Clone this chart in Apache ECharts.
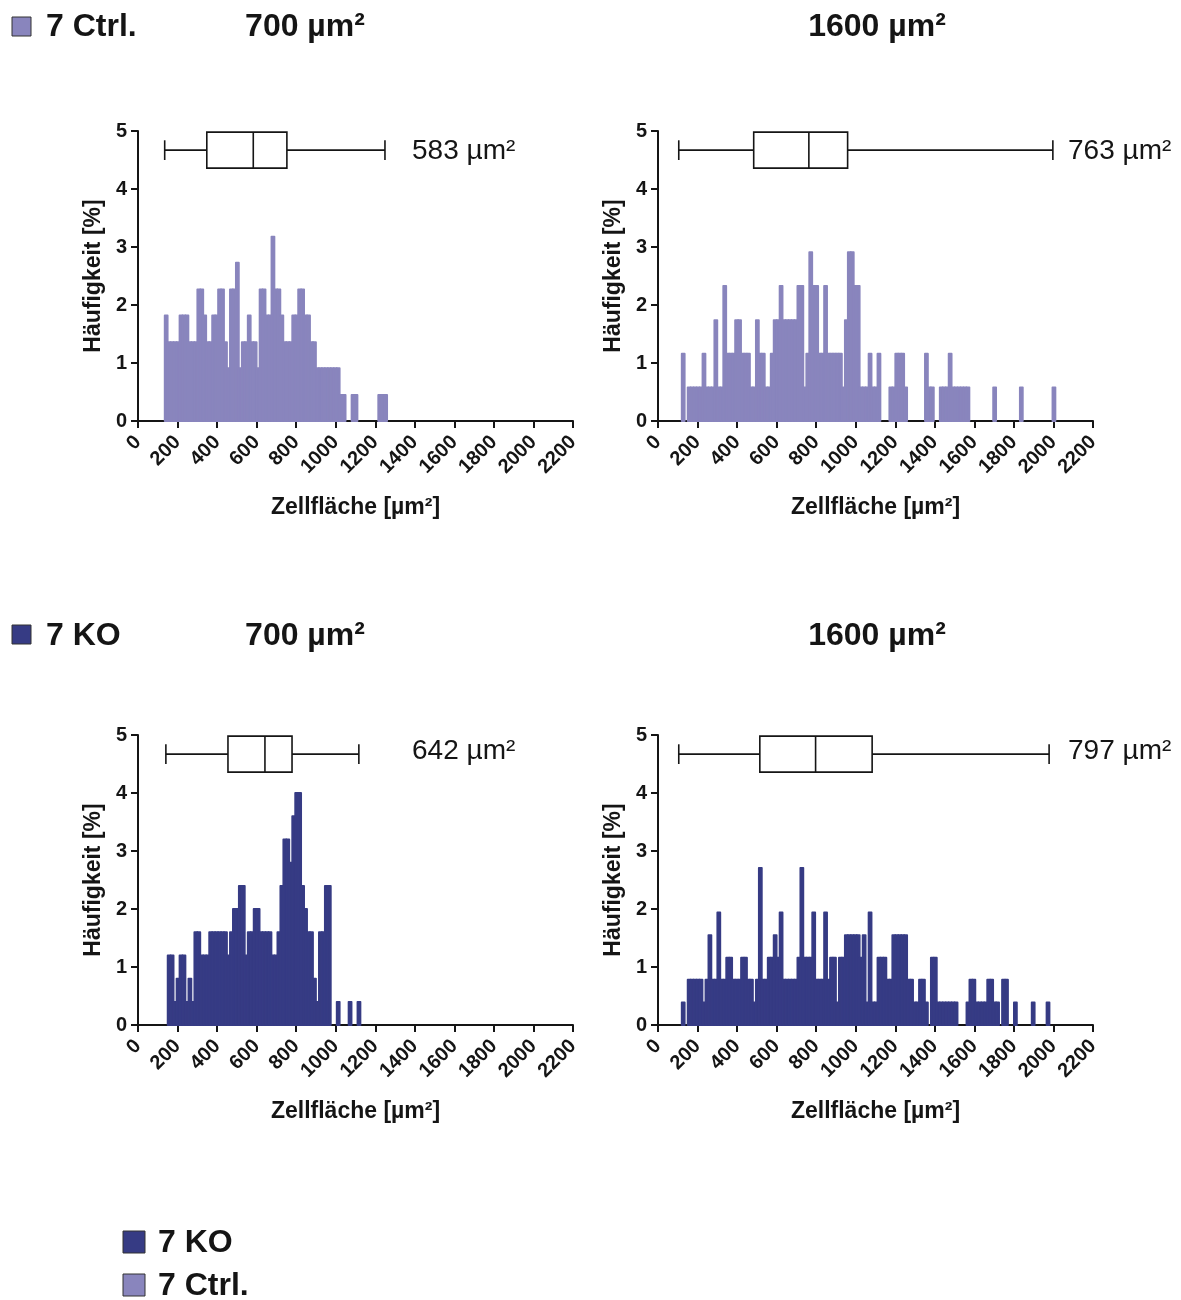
<!DOCTYPE html>
<html>
<head>
<meta charset="utf-8">
<script src="https://cdn.jsdelivr.net/npm/echarts@6/dist/echarts.min.js"></script>
<style>
  html, body { margin: 0; background: #fff; }
  #chart { width: 1181px; height: 1300px; }
</style>
</head>
<body>
<div id="chart"></div>
<script>
// Zellflächen-Histogramme, Klassenbreite 15 µm²
const binWidth = 15

// [Klassenanfang µm², Häufigkeit %]
const ctrl700 = [[135,1.82],[150,1.36],[165,1.36],[180,1.36],[195,1.36],[210,1.82],[225,1.82],[240,1.82],[255,1.36],[270,1.36],[285,1.36],[300,2.27],[315,2.27],[330,1.82],[345,1.36],[360,1.36],[375,1.82],[390,1.82],[405,2.27],[420,2.27],[435,1.36],[450,0.91],[465,2.27],[480,2.27],[495,2.73],[510,0.91],[525,1.36],[540,1.36],[555,1.82],[570,1.36],[585,1.36],[600,0.91],[615,2.27],[630,2.27],[645,1.82],[660,1.82],[675,3.18],[690,2.27],[705,2.27],[720,1.82],[735,1.36],[750,1.36],[765,1.36],[780,1.82],[795,1.82],[810,2.27],[825,2.27],[840,1.82],[855,1.82],[870,1.36],[885,1.36],[900,0.91],[915,0.91],[930,0.91],[945,0.91],[960,0.91],[975,0.91],[990,0.91],[1005,0.91],[1020,0.45],[1035,0.45],[1080,0.45],[1095,0.45],[1215,0.45],[1230,0.45],[1245,0.45]]

const ctrl1600 = [[120,1.16],[150,0.58],[165,0.58],[180,0.58],[195,0.58],[210,0.58],[225,1.16],[240,0.58],[255,0.58],[270,0.58],[285,1.74],[300,0.58],[315,0.58],[330,2.33],[345,1.16],[360,1.16],[375,1.16],[390,1.74],[405,1.74],[420,1.16],[435,1.16],[450,1.16],[465,0.58],[480,0.58],[495,1.74],[510,1.16],[525,1.16],[540,0.58],[555,0.58],[570,1.16],[585,1.74],[600,1.74],[615,2.33],[630,1.74],[645,1.74],[660,1.74],[675,1.74],[690,1.74],[705,2.33],[720,2.33],[735,0.58],[750,1.16],[765,2.91],[780,2.33],[795,2.33],[810,1.16],[825,1.16],[840,2.33],[855,1.16],[870,1.16],[885,1.16],[900,1.16],[915,1.16],[930,0.58],[945,1.74],[960,2.91],[975,2.91],[990,2.33],[1005,2.33],[1020,0.58],[1035,0.58],[1050,0.58],[1065,1.16],[1080,0.58],[1095,0.58],[1110,1.16],[1170,0.58],[1185,0.58],[1200,1.16],[1215,1.16],[1230,1.16],[1245,0.58],[1350,1.16],[1365,0.58],[1380,0.58],[1425,0.58],[1440,0.58],[1455,0.58],[1470,1.16],[1485,0.58],[1500,0.58],[1515,0.58],[1530,0.58],[1545,0.58],[1560,0.58],[1695,0.58],[1830,0.58],[1995,0.58]]

const ko700 = [[150,1.2],[165,1.2],[180,0.4],[195,0.8],[210,1.2],[225,1.2],[240,0.4],[255,0.8],[270,0.4],[285,1.6],[300,1.6],[315,1.2],[330,1.2],[345,1.2],[360,1.6],[375,1.6],[390,1.6],[405,1.6],[420,1.6],[435,1.6],[450,1.2],[465,1.6],[480,2.0],[495,2.0],[510,2.4],[525,2.4],[540,1.2],[555,1.6],[570,1.6],[585,2.0],[600,2.0],[615,1.6],[630,1.6],[645,1.6],[660,1.6],[675,1.2],[690,1.2],[705,1.6],[720,2.4],[735,3.2],[750,3.2],[765,2.8],[780,3.6],[795,4.0],[810,4.0],[825,2.4],[840,2.0],[855,1.6],[870,1.6],[885,0.8],[900,0.4],[915,1.6],[930,1.6],[945,2.4],[960,2.4],[1005,0.4],[1065,0.4],[1110,0.4]]

const ko1600 = [[120,0.39],[150,0.78],[165,0.78],[180,0.78],[195,0.78],[210,0.78],[225,0.39],[240,0.78],[255,1.55],[270,0.78],[285,0.78],[300,1.94],[315,0.78],[330,0.78],[345,1.16],[360,1.16],[375,0.78],[390,0.78],[405,0.78],[420,1.16],[435,1.16],[450,0.78],[465,0.78],[480,0.39],[495,0.78],[510,2.71],[525,0.78],[540,0.78],[555,1.16],[570,1.16],[585,1.55],[600,1.16],[615,1.94],[630,0.78],[645,0.78],[660,0.78],[675,0.78],[690,0.78],[705,1.16],[720,2.71],[735,1.16],[750,1.16],[765,1.16],[780,1.94],[795,0.78],[810,0.78],[825,0.78],[840,1.94],[855,0.78],[870,1.16],[885,1.16],[900,0.39],[915,1.16],[930,1.16],[945,1.55],[960,1.55],[975,1.55],[990,1.55],[1005,1.55],[1020,1.16],[1035,1.55],[1050,0.39],[1065,1.94],[1080,0.39],[1095,0.39],[1110,1.16],[1125,1.16],[1140,1.16],[1155,0.78],[1170,0.78],[1185,1.55],[1200,1.55],[1215,1.55],[1230,1.55],[1245,1.55],[1260,0.78],[1275,0.78],[1290,0.39],[1305,0.39],[1320,0.78],[1335,0.78],[1350,0.39],[1380,1.16],[1395,1.16],[1410,0.39],[1425,0.39],[1440,0.39],[1455,0.39],[1470,0.39],[1485,0.39],[1500,0.39],[1560,0.39],[1575,0.78],[1590,0.78],[1605,0.39],[1620,0.39],[1635,0.39],[1650,0.39],[1665,0.78],[1680,0.78],[1695,0.39],[1710,0.39],[1740,0.78],[1755,0.78],[1800,0.39],[1890,0.39],[1965,0.39]]

// Boxplot: min, Q1, Median, Q3, max
const boxCtrl700 = [135, 348, 583, 753, 1249]
const boxCtrl1600 = [105, 484, 763, 959, 1997]
const boxKo700 = [141, 455, 642, 779, 1117]
const boxKo1600 = [105, 515, 797, 1083, 1978]

const medianLabels = ['583 µm²', '763 µm²', '642 µm²', '797 µm²']
const groupNames = ['7 Ctrl.', '7 KO']
const sizeTitles = ['700 µm²', '1600 µm²']

const ctrlColor = '#8985bd'
const koColor = '#363b84'
const ink = '#151515'
const font = 'Liberation Sans, Arial, sans-serif'

const boxLevel = 4.67
const boxHalf = 0.31
const capHalf = 0.17

const panels = [
  { bins: ctrl700, box: boxCtrl700, color: ctrlColor, grid: { left: 138, top: 131 } },
  { bins: ctrl1600, box: boxCtrl1600, color: ctrlColor, grid: { left: 658, top: 131 } },
  { bins: ko700, box: boxKo700, color: koColor, grid: { left: 138, top: 735 } },
  { bins: ko1600, box: boxKo1600, color: koColor, grid: { left: 658, top: 735 } }
]

const chart = echarts.init(document.getElementById('chart'))

function barItem(color) {
  return function (params, api) {
    const start = api.value(0)
    const top = api.coord([start, api.value(1)])
    const base = api.coord([start + binWidth, 0])
    return {
      type: 'rect',
      shape: { x: top[0], y: top[1], width: base[0] - top[0], height: base[1] - top[1] },
      style: { fill: color, stroke: color, lineWidth: 1.8, lineJoin: 'round' }
    }
  }
}

function boxItem(params, api) {
  const lvl = api.value(5)
  const c = [0, 1, 2, 3, 4].map(i => api.coord([api.value(i), lvl]))
  const y = c[0][1]
  const bh = api.size([0, boxHalf])[1]
  const ch = api.size([0, capHalf])[1]
  const st = { stroke: ink, lineWidth: 1.6, fill: null }
  const line = (x1, y1, x2, y2) => ({ type: 'line', shape: { x1, y1, x2, y2 }, style: st })
  return {
    type: 'group',
    children: [
      line(c[0][0], y, c[1][0], y),
      line(c[3][0], y, c[4][0], y),
      line(c[0][0], y - ch, c[0][0], y + ch),
      line(c[4][0], y - ch, c[4][0], y + ch),
      { type: 'rect', shape: { x: c[1][0], y: y - bh, width: c[3][0] - c[1][0], height: 2 * bh },
        style: { fill: '#fff', stroke: ink, lineWidth: 1.6 } },
      line(c[2][0], y - bh, c[2][0], y + bh)
    ]
  }
}

const axisLineStyle = { color: ink, width: 2 }
const tickFont = { fontFamily: font, fontWeight: 'bold', fontSize: 20, color: ink }
const nameFont = { fontFamily: font, fontWeight: 'bold', fontSize: 23, color: ink }

const option = {
  animation: false,
  grid: panels.map(p => ({ left: p.grid.left, top: p.grid.top, width: 435, height: 290, outerBoundsMode: 'none' })),
  xAxis: panels.map((p, i) => ({
    gridIndex: i, type: 'value', min: 0, max: 2200, interval: 200,
    name: 'Zellfläche [µm²]', nameLocation: 'middle', nameGap: 75, nameTextStyle: nameFont,
    axisLine: { show: true, onZero: false, lineStyle: axisLineStyle },
    axisTick: { show: true, length: 7, lineStyle: axisLineStyle },
    axisLabel: Object.assign({ rotate: 45, margin: 18, formatter: v => String(v) }, tickFont),
    splitLine: { show: false }
  })),
  yAxis: panels.map((p, i) => ({
    gridIndex: i, type: 'value', min: 0, max: 5, interval: 1,
    name: 'Häufigkeit [%]', nameLocation: 'middle', nameGap: 33, nameTextStyle: nameFont,
    axisLine: { show: true, onZero: false, lineStyle: axisLineStyle },
    axisTick: { show: true, length: 7, lineStyle: axisLineStyle },
    axisLabel: Object.assign({ margin: 11 }, tickFont),
    splitLine: { show: false }
  })),
  series: [].concat(
    panels.map((p, i) => ({
      type: 'custom', xAxisIndex: i, yAxisIndex: i,
      renderItem: barItem(p.color), encode: { x: 0, y: 1 }, data: p.bins
    })),
    panels.map((p, i) => ({
      type: 'custom', xAxisIndex: i, yAxisIndex: i, z: 5,
      renderItem: boxItem, encode: { x: [0, 1, 2, 3, 4], y: 5 },
      data: [p.box.concat(boxLevel)]
    }))
  ),
  graphic: [
    { type: 'rect', shape: { x: 12, y: 17, width: 19, height: 19 }, style: { fill: ctrlColor, stroke: '#333', lineWidth: 1 } },
    { type: 'text', x: 46, y: 27, style: { text: groupNames[0], font: 'bold 32px ' + font, fill: ink, align: 'left', verticalAlign: 'middle' } },
    { type: 'text', x: 305, y: 27, style: { text: sizeTitles[0], font: 'bold 32px ' + font, fill: ink, align: 'center', verticalAlign: 'middle' } },
    { type: 'text', x: 877, y: 27, style: { text: sizeTitles[1], font: 'bold 32px ' + font, fill: ink, align: 'center', verticalAlign: 'middle' } },
    { type: 'rect', shape: { x: 12, y: 625, width: 19, height: 19 }, style: { fill: koColor, stroke: '#333', lineWidth: 1 } },
    { type: 'text', x: 46, y: 636, style: { text: groupNames[1], font: 'bold 32px ' + font, fill: ink, align: 'left', verticalAlign: 'middle' } },
    { type: 'text', x: 305, y: 636, style: { text: sizeTitles[0], font: 'bold 32px ' + font, fill: ink, align: 'center', verticalAlign: 'middle' } },
    { type: 'text', x: 877, y: 636, style: { text: sizeTitles[1], font: 'bold 32px ' + font, fill: ink, align: 'center', verticalAlign: 'middle' } },
    { type: 'text', x: 412, y: 151, style: { text: medianLabels[0], font: '28px ' + font, fill: ink, align: 'left', verticalAlign: 'middle' } },
    { type: 'text', x: 1068, y: 151, style: { text: medianLabels[1], font: '28px ' + font, fill: ink, align: 'left', verticalAlign: 'middle' } },
    { type: 'text', x: 412, y: 751, style: { text: medianLabels[2], font: '28px ' + font, fill: ink, align: 'left', verticalAlign: 'middle' } },
    { type: 'text', x: 1068, y: 751, style: { text: medianLabels[3], font: '28px ' + font, fill: ink, align: 'left', verticalAlign: 'middle' } },
    { type: 'rect', shape: { x: 123, y: 1231, width: 22, height: 22 }, style: { fill: koColor, stroke: '#333', lineWidth: 1 } },
    { type: 'text', x: 158, y: 1243, style: { text: groupNames[1], font: 'bold 32px ' + font, fill: ink, align: 'left', verticalAlign: 'middle' } },
    { type: 'rect', shape: { x: 123, y: 1274, width: 22, height: 22 }, style: { fill: ctrlColor, stroke: '#333', lineWidth: 1 } },
    { type: 'text', x: 158, y: 1286, style: { text: groupNames[0], font: 'bold 32px ' + font, fill: ink, align: 'left', verticalAlign: 'middle' } }
  ]
}

chart.setOption(option)
</script>
</body>
</html>
